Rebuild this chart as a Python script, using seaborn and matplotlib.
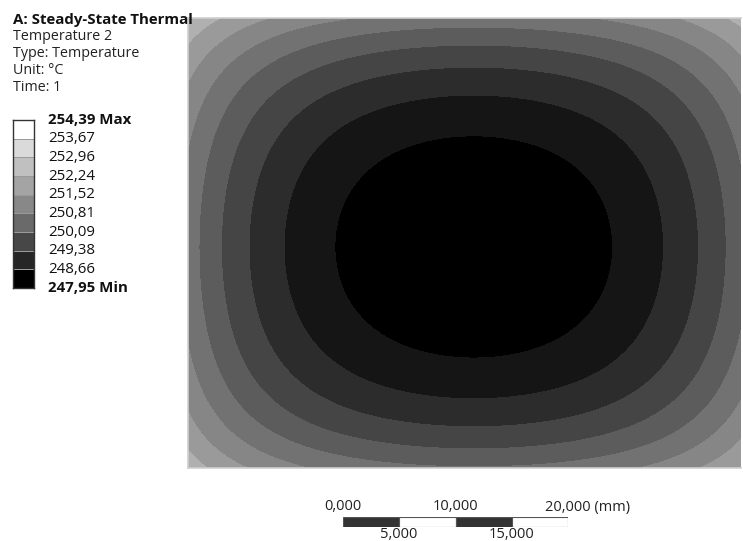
import numpy as np
import matplotlib
matplotlib.use("Agg")
import matplotlib.pyplot as plt
from matplotlib.colors import ListedColormap
import seaborn as sns

# legend levels (degC), top of the legend is the max
levels = [247.95, 248.66, 249.38, 250.09, 250.81, 251.52, 252.24, 252.96, 253.67, 254.39]
# greys of the bands as they appear on the shaded plate (min -> max)
plate_colors = ['#000000', '#151515', '#2c2c2c', '#454545', '#5c5c5c',
                '#727272', '#868686', '#9a9a9a', '#b0b0b0']
# greys of the legend boxes (min -> max)
legend_colors = ['#000000', '#262626', '#474747', '#6a6a6a', '#888888',
                 '#a4a4a4', '#c0c0c0', '#dadada', '#ffffff']

header = ['Temperature 2', 'Type: Temperature', 'Unit: °C', 'Time: 1']

# plate size in mm, visible width and readings of the temperature field
plate_w = 50.0
plate_h = 40.0
visible_w = 49.15
cold_x, cold_y = 25.4, 19.65   # coldest spot
t_min = 247.95
edge_rise = 3.8      # rise from centre to the middle of an edge
corner_drop = 1.45   # corners are cooler than 2 x edge rise
k = 2.1

# scale bar
bar_starts = [0, 5, 10, 15]
bar_colors = ['#333333', '#ffffff', '#333333', '#ffffff']
bar_top_labels = ['0,000', '10,000', '20,000 (mm)']
bar_bottom_labels = ['5,000', '15,000']

W, H = 743, 541
sns.set_theme(style="white")
plt.rcParams['font.family'] = ['Open Sans', 'DejaVu Sans']

fig = plt.figure(figsize=(W / 100, H / 100), dpi=100)


def fx(x):
    return x / W


def fy(y):
    return 1 - y / H


def ax_at(x0, y0, x1, y1):
    return fig.add_axes([fx(x0), fy(y1), fx(x1) - fx(x0), (y1 - y0) / H])


# temperature field on the plate
x = np.linspace(0, plate_w, 600)
y = np.linspace(0, plate_h, 500)
X, Y = np.meshgrid(x, y)
u = (X - cold_x) / (plate_w / 2)
v = (Y - cold_y) / (plate_h / 2)
gu = (np.cosh(k * u) - 1) / (np.cosh(k) - 1)
gv = (np.cosh(k * v) - 1) / (np.cosh(k) - 1)
T = t_min + edge_rise * (gu + gv) - corner_drop * gu * gv
T = np.clip(T, levels[0], levels[-1])

ax = ax_at(188, 18, 741, 468)
ax.contourf(X, Y, T, levels=levels, colors=plate_colors)
ax.set_xlim(0, visible_w)
ax.set_ylim(0, plate_h)
ax.set_xticks([])
ax.set_yticks([])
for side in ['top', 'bottom', 'left']:
    ax.spines[side].set_color('#cfcfcf')
    ax.spines[side].set_linewidth(1.2)
ax.spines['right'].set_visible(False)

# header text
fig.text(fx(13), fy(20), 'A: Steady-State Thermal', fontsize=10.8, fontweight='bold',
         va='center', ha='left', color='#111111')
for i, line in enumerate(header):
    fig.text(fx(13), fy(36 + i * 17.2), line, fontsize=10.3, va='center', ha='left',
             color='#222222')

# legend strip
lax = ax_at(13, 120, 34, 288)
strip = np.arange(len(legend_colors))[::-1].reshape(-1, 1)
sns.heatmap(strip, ax=lax, cmap=ListedColormap(legend_colors), cbar=False,
            linewidths=0.6, linecolor='#9a9a9a', xticklabels=False, yticklabels=False)
for s in lax.spines.values():
    s.set_visible(True)
    s.set_color('#333333')
    s.set_linewidth(1.0)

label_y = np.linspace(120, 288, len(levels))
for i, val in enumerate(levels[::-1]):
    txt = f"{val:.2f}".replace('.', ',')
    weight = 'normal'
    if i == 0:
        txt += ' Max'
        weight = 'bold'
    elif i == len(levels) - 1:
        txt += ' Min'
        weight = 'bold'
    fig.text(fx(48), fy(label_y[i]), txt, fontsize=10.8, fontweight=weight,
             va='center', ha='left', color='#111111')

# scale bar
bax = ax_at(343, 517, 568, 527)
bax.barh([0] * len(bar_starts), [5] * len(bar_starts), left=bar_starts, height=1,
         color=bar_colors, edgecolor='#555555', linewidth=0.8)
bax.set_xlim(0, 20)
bax.set_ylim(-0.5, 0.5)
bax.axis('off')
for i, lab in enumerate(bar_top_labels):
    bx = 343 + i * 112.5
    if i == len(bar_top_labels) - 1:
        fig.text(fx(545), fy(507), lab, fontsize=10.5, ha='left', va='center', color='#222222')
    else:
        fig.text(fx(bx), fy(507), lab, fontsize=10.5, ha='center', va='center', color='#222222')
for i, lab in enumerate(bar_bottom_labels):
    bx = 399 + i * 112.5
    fig.text(fx(bx), fy(534), lab, fontsize=10.5, ha='center', va='center', color='#222222')

fig.savefig('out.png', dpi=100)
